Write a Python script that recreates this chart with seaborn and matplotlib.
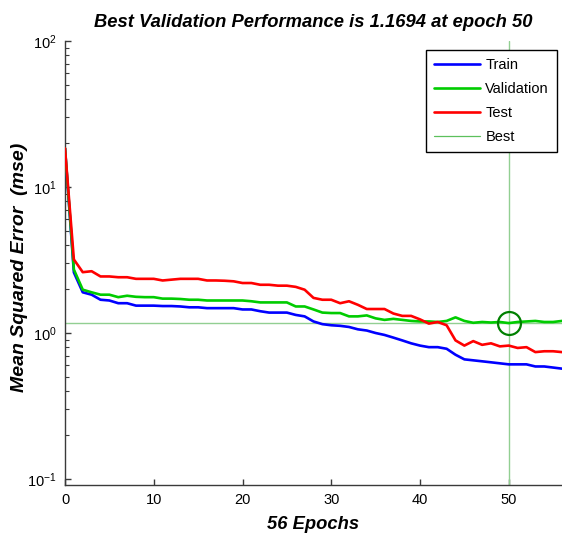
import numpy as np
import pandas as pd
import matplotlib
matplotlib.use("Agg")
import matplotlib.pyplot as plt
from matplotlib.lines import Line2D
from matplotlib.ticker import LogLocator, NullFormatter
import seaborn as sns

# ---------------- data ----------------
epochs = list(range(0, 57))
train = [18.4, 2.60, 1.90, 1.83, 1.69, 1.67, 1.60, 1.60, 1.54, 1.54,
         1.54, 1.53, 1.53, 1.52, 1.50, 1.50, 1.48, 1.48, 1.48, 1.48,
         1.45, 1.45, 1.41, 1.38, 1.38, 1.38, 1.33, 1.30, 1.20, 1.15,
         1.13, 1.12, 1.10, 1.06, 1.04, 1.00, 0.97, 0.93, 0.89, 0.85,
         0.82, 0.80, 0.80, 0.78, 0.71, 0.66, 0.65, 0.64, 0.63, 0.62,
         0.61, 0.61, 0.61, 0.59, 0.59, 0.58, 0.57]
validation = [18.4, 2.72, 1.98, 1.90, 1.83, 1.83, 1.76, 1.80, 1.77, 1.76,
              1.76, 1.72, 1.72, 1.71, 1.69, 1.69, 1.67, 1.67, 1.67, 1.67,
              1.67, 1.65, 1.62, 1.62, 1.62, 1.62, 1.52, 1.52, 1.45, 1.38,
              1.37, 1.37, 1.30, 1.30, 1.32, 1.26, 1.23, 1.25, 1.23, 1.21,
              1.20, 1.20, 1.19, 1.21, 1.28, 1.21, 1.175, 1.19, 1.18, 1.19,
              1.1694, 1.19, 1.20, 1.21, 1.19, 1.19, 1.21]
test = [18.4, 3.19, 2.61, 2.65, 2.44, 2.44, 2.41, 2.41, 2.35, 2.35,
        2.35, 2.29, 2.32, 2.35, 2.35, 2.35, 2.29, 2.29, 2.28, 2.26,
        2.20, 2.20, 2.14, 2.14, 2.11, 2.11, 2.07, 1.98, 1.74, 1.69,
        1.69, 1.60, 1.65, 1.56, 1.46, 1.46, 1.46, 1.36, 1.31, 1.31,
        1.24, 1.16, 1.19, 1.13, 0.89, 0.82, 0.88, 0.83, 0.85, 0.81,
        0.82, 0.79, 0.80, 0.74, 0.75, 0.75, 0.74]
series_names = ["Train", "Validation", "Test"]
series_colors = ["#0000ff", "#00cc00", "#ff0000"]
best_epoch = 50
best_value = 1.1694
n_epochs = 56
title_text = "Best Validation Performance is 1.1694 at epoch 50"
xlabel_text = "56 Epochs"
ylabel_text = "Mean Squared Error  (mse)"
xticks = [0, 10, 20, 30, 40, 50]

df = pd.DataFrame({
    "epoch": epochs * 3,
    "mse": train + validation + test,
    "set": ["Train"] * len(epochs) + ["Validation"] * len(epochs) + ["Test"] * len(epochs),
})

# ---------------- style ----------------
sns.set_style("white")
plt.rcParams["font.family"] = ["Liberation Sans", "DejaVu Sans"]
plt.rcParams["mathtext.fontset"] = "custom"
plt.rcParams["mathtext.rm"] = "Liberation Sans"
plt.rcParams["mathtext.it"] = "Liberation Sans:italic"
plt.rcParams["axes.unicode_minus"] = False
plt.rcParams["text.color"] = "black"
plt.rcParams["axes.labelcolor"] = "black"

fig = plt.figure(figsize=(5.62, 5.35), dpi=100)
ax = fig.add_axes([65 / 562, 1 - 485 / 535, 497 / 562, 444 / 535])

best_color = "#92cf92"
ax.axhline(best_value, color=best_color, lw=1.0, zorder=1)
ax.axvline(best_epoch, color=best_color, lw=1.0, zorder=1)

palette = dict(zip(series_names, series_colors))
sns.lineplot(data=df, x="epoch", y="mse", hue="set", palette=palette,
             hue_order=series_names, estimator=None, sort=False,
             linewidth=1.9, legend=False, ax=ax, zorder=3)

ax.plot([best_epoch], [best_value], marker="o", markersize=16.5,
        markerfacecolor="none", markeredgecolor="#008000",
        markeredgewidth=1.6, linestyle="none", zorder=4)

ax.set_yscale("log")
ax.set_ylim(0.091, 100)
ax.set_xlim(0, n_epochs)
ax.set_xticks(xticks)
ax.yaxis.set_major_locator(LogLocator(base=10, numticks=10))
ax.yaxis.set_minor_locator(LogLocator(base=10, subs=np.arange(2, 10), numticks=20))
ax.yaxis.set_minor_formatter(NullFormatter())

spine_col = "#3a3a3a"
for s in ["top", "right"]:
    ax.spines[s].set_visible(False)
for s in ["left", "bottom"]:
    ax.spines[s].set_color(spine_col)
    ax.spines[s].set_linewidth(1.0)

ax.tick_params(axis="both", which="major", direction="in", length=4.5,
               width=1, color=spine_col, labelsize=10.5, pad=6,
               labelcolor="black", bottom=True, left=True, top=False, right=False)
ax.tick_params(axis="y", which="minor", direction="in", length=2.8,
               width=0.8, color=spine_col, left=True, right=False)
ax.tick_params(axis="x", which="minor", bottom=False)

ax.set_title(title_text, fontsize=13.2, fontweight="bold", fontstyle="italic", pad=10)
ax.set_xlabel(xlabel_text, fontsize=13.2, fontweight="bold", fontstyle="italic", labelpad=6)
ax.set_ylabel(ylabel_text, fontsize=14, fontweight="bold", fontstyle="italic")
ax.yaxis.set_label_coords(-0.074, 0.49)

handles = [Line2D([], [], color=c, lw=1.9) for c in series_colors]
handles.append(Line2D([], [], color="#5cc05c", lw=0.9))
leg = ax.legend(handles, series_names + ["Best"], loc="upper right",
                bbox_to_anchor=(0.99, 0.98), fontsize=10.5, frameon=True,
                fancybox=False, framealpha=1, edgecolor="black",
                handlelength=3.1, handletextpad=0.4, labelspacing=0.68,
                borderpad=0.55, borderaxespad=0)
leg.get_frame().set_linewidth(1.0)

fig.savefig("out.png", dpi=100)
